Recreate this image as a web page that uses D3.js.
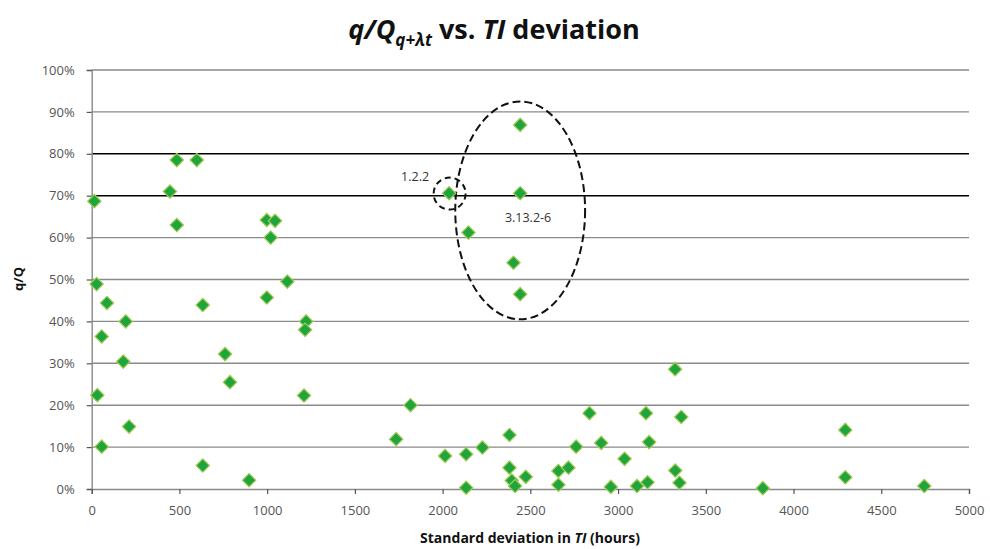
<!DOCTYPE html>
<html>
<head>
<meta charset="utf-8">
<script src="https://cdn.jsdelivr.net/npm/d3@7"></script>
<style>
  body { margin: 0; background: #fff; }
  svg { font-family: "Open Sans", "DejaVu Sans", sans-serif; }
</style>
</head>
<body>
<svg id="chart" width="990" height="549"></svg>
<script>
// std deviation in TI (hours)
var sdHours = [15, 28, 87, 194, 57, 180, 32, 213, 57, 633, 633, 760, 788, 998, 1115, 897,
  1222, 1216, 1210, 485, 599, 446, 485, 998, 1045, 1020,
  2037, 2442, 2442, 2147, 2404, 2442,
  1817, 1735, 2014, 2134, 2134, 2227, 2381, 2381, 2394, 2413, 2474, 2660, 2660, 2717,
  2761, 2837, 2904, 2959, 3037, 3108, 3159, 3168, 3177, 3326, 3360, 3350, 3325,
  3825, 4295, 4295, 4745];
// q/Q in percent
var qRatio = [68.7, 48.9, 44.4, 40.0, 36.4, 30.4, 22.4, 14.9, 10.1, 43.9, 5.6, 32.2, 25.5, 45.7, 49.5, 2.1,
  40.0, 38.0, 22.3, 78.5, 78.5, 71.0, 63.0, 64.2, 64.0, 60.0,
  70.6, 86.9, 70.6, 61.2, 54.0, 46.5,
  20.0, 11.9, 7.9, 8.3, 0.3, 9.9, 12.9, 5.1, 2.0, 0.7, 2.9, 4.3, 1.0, 5.1,
  10.1, 18.1, 11.0, 0.5, 7.2, 0.7, 18.1, 1.6, 11.2, 4.4, 17.2, 1.5, 28.6,
  0.2, 14.1, 2.8, 0.7];

var xTicks = [0, 500, 1000, 1500, 2000, 2500, 3000, 3500, 4000, 4500, 5000];
var yTicks = [0, 10, 20, 30, 40, 50, 60, 70, 80, 90, 100];
var darkLines = [70, 80];

var svg = d3.select("#chart");
var margin = {left: 91.7, right: 21, top: 70, bottom: 60};
var W = 990, H = 549;

var x = d3.scaleLinear().domain([0, 5000]).range([margin.left, W - margin.right]);
var y = d3.scaleLinear().domain([0, 100]).range([H - margin.bottom, margin.top]);

// gridlines
svg.append("g").selectAll("line").data(yTicks.filter(function(d){ return d > 0; }))
  .enter().append("line")
  .attr("x1", x(0)).attr("x2", x(5000))
  .attr("y1", function(d){ return y(d); }).attr("y2", function(d){ return y(d); })
  .attr("stroke", function(d){ return darkLines.indexOf(d) >= 0 ? "#000" : "#8a8a8a"; })
  .attr("stroke-width", function(d){ return darkLines.indexOf(d) >= 0 ? 1.6 : 1.4; });

// axes
var yAxis = svg.append("g").attr("transform", "translate(" + x(0) + ",0)")
  .call(d3.axisLeft(y).tickValues(yTicks).tickSize(5).tickPadding(12)
    .tickFormat(function(d){ return d + "%"; }));
var xAxis = svg.append("g").attr("transform", "translate(0," + y(0) + ")")
  .call(d3.axisBottom(x).tickValues(xTicks).tickSize(5).tickPadding(12)
    .tickFormat(d3.format("d")));

[yAxis, xAxis].forEach(function(a){
  a.select(".domain").attr("stroke", "#8a8a8a").attr("stroke-width", 1.4);
  a.selectAll(".tick line").attr("stroke", "#555").attr("stroke-width", 1.2);
  a.selectAll(".tick text").attr("fill", "#555").style("font-size", "13px")
    .style("font-family", "'Open Sans', sans-serif");
});

// annotations
svg.append("ellipse")
  .attr("cx", x(2442)).attr("cy", y(66.5))
  .attr("rx", x(370) - x(0)).attr("ry", y(0) - y(26))
  .attr("fill", "none").attr("stroke", "#111").attr("stroke-width", 2)
  .attr("stroke-dasharray", "8,4");
svg.append("circle")
  .attr("cx", x(2040)).attr("cy", y(70.5)).attr("r", 16)
  .attr("fill", "none").attr("stroke", "#111").attr("stroke-width", 2)
  .attr("stroke-dasharray", "6,4");

// markers (square turned 45deg)
var pts = sdHours.map(function(v, i){ return [v, qRatio[i]]; });
svg.append("g").selectAll("path").data(pts).enter().append("path")
  .attr("d", d3.symbol().type(d3.symbolSquare).size(90))
  .attr("transform", function(d){ return "translate(" + x(d[0]) + "," + y(d[1]) + ") rotate(45)"; })
  .attr("fill", "#1fa53c").attr("stroke", "#a3cc55").attr("stroke-width", 1.2);

svg.append("text").attr("x", x(1843)).attr("y", y(74.5) + 4)
  .attr("text-anchor", "middle").attr("fill", "#333").style("font-size", "12.5px").text("1.2.2");
svg.append("text").attr("x", x(2487)).attr("y", y(64.7) + 4)
  .attr("text-anchor", "middle").attr("fill", "#333").style("font-size", "12.5px").text("3.13.2-6");

// titles
var title = svg.append("text").attr("x", 494).attr("y", 39).attr("text-anchor", "middle")
  .style("font-size", "27px").style("font-weight", "bold").attr("fill", "#111");
title.append("tspan").style("font-style", "italic").text("q/Q");
title.append("tspan").style("font-style", "italic").style("font-size", "17px").attr("dy", 7).text("q+λt");
title.append("tspan").attr("dy", -7).text(" vs. ");
title.append("tspan").style("font-style", "italic").text("TI");
title.append("tspan").text(" deviation");

var xt = svg.append("text").attr("x", 530).attr("y", 543).attr("text-anchor", "middle")
  .style("font-size", "14px").style("font-weight", "bold").attr("fill", "#111");
xt.append("tspan").text("Standard deviation in ");
xt.append("tspan").style("font-style", "italic").text("TI");
xt.append("tspan").text(" (hours)");

svg.append("text").attr("transform", "translate(23,279) rotate(-90)").attr("text-anchor", "middle")
  .style("font-size", "13px").style("font-weight", "bold").attr("fill", "#111").text("q/Q");
</script>
</body>
</html>
